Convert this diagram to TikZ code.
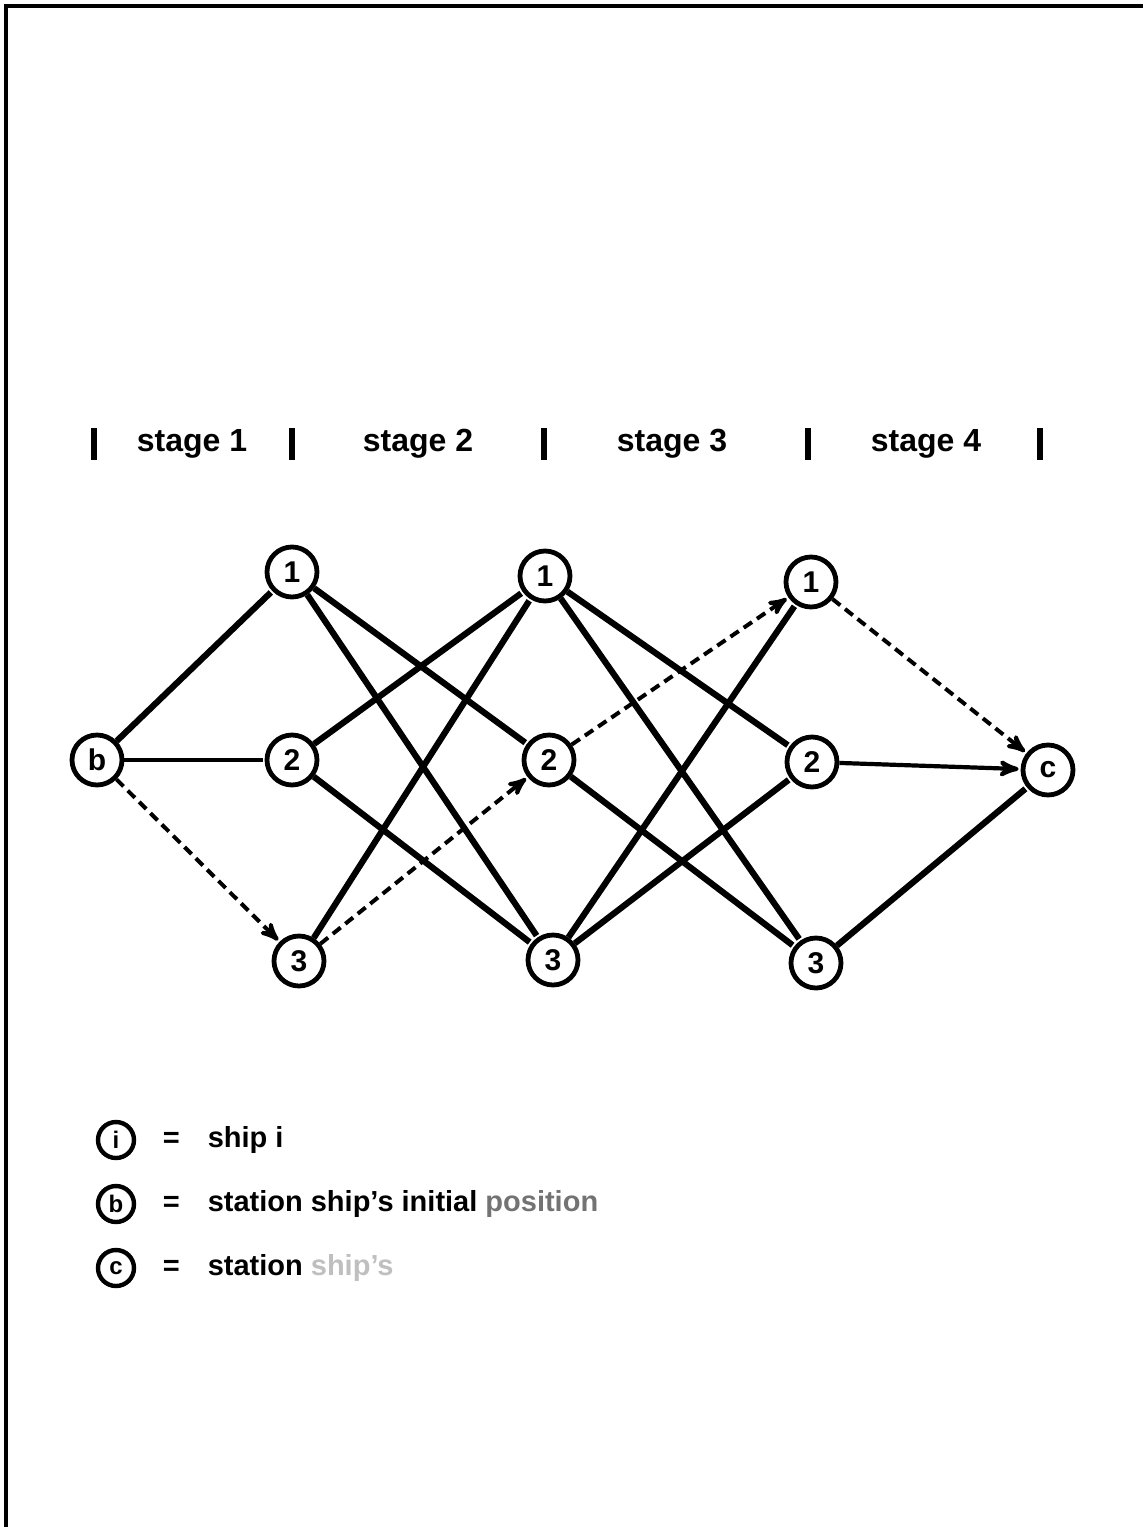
\documentclass[tikz,border=0pt]{standalone}
\usepackage{fontspec}
\setmainfont{Liberation Sans}
\usetikzlibrary{arrows,automata}

\begin{document}
\begin{tikzpicture}[x=0.5pt,y=-0.5pt,>=stealth',shorten >=1pt,line width=3.1pt]
        \tikzstyle{every state}=[fill=none,draw=black,text=black,line width=2.4pt,minimum size=25pt,inner sep=0pt,font=\bfseries\fontsize{15}{15}\selectfont]
        \tikzstyle{key}=[state,minimum size=18pt,line width=2.2pt,font=\bfseries\fontsize{12}{12}\selectfont]
        \tikzstyle{lightedge}=[line width=2.1pt]
        \tikzstyle{opt}=[->,dashed,line width=2pt,dash pattern=on 5pt off 3pt]
        \tikzstyle{label}=[font=\bfseries\fontsize{16}{16}\selectfont]
        \tikzstyle{keytext}=[anchor=west,font=\bfseries\fontsize{14.5}{14.5}\selectfont]
        \useasboundingbox (0,0) rectangle (1145,1527);
        \draw[line width=2pt] (6,1527) -- (6,6) -- (1145,6);

        % stage header
        \foreach \x in {94,292,544,808,1040}
            \draw[line width=2.7pt] (\x,428) -- (\x,462);
        \node[label] (s1) at (192,444) {stage 1};
        \node[label] (s2) at (418,444) {stage 2};
        \node[label] (s3) at (672,444) {stage 3};
        \node[label] (s4) at (926,444) {stage 4};

        \node[state] (b)  at (97,760)   {b};
        \node[state] (11) at (292,572)  {1};
        \node[state] (12) at (292,760)  {2};
        \node[state] (13) at (299,961)  {3};
        \node[state] (21) at (545,576)  {1};
        \node[state] (22) at (549,760)  {2};
        \node[state] (23) at (553,960)  {3};
        \node[state] (31) at (811,582)  {1};
        \node[state] (32) at (812,762)  {2};
        \node[state] (33) at (816,963)  {3};
        \node[state] (c)  at (1048,770) {c};

        \path (b) edge (11)
        edge[lightedge] (12)
        edge[opt] (13)
        (11) edge (22)
        edge (23)
        (12) edge (21)
        edge (23)
        (13) edge (21)
        edge[opt] (22)
        (21) edge (32)
        edge (33)
        (22) edge[opt] (31)
        edge (33)
        (23) edge (31)
        edge (32)
        (31) edge[opt] (c)
        (32) edge[lightedge,->] (c)
        (33) edge (c);

        % legend
        \node[key] (ki) at (116,1140) {i};
        \node[key] (kb) at (116,1204) {b};
        \node[key] (kc) at (116,1268) {c};
        \node[keytext] (ei) at (153,1140) {=};
        \node[keytext] (eb) at (153,1204) {=};
        \node[keytext] (ec) at (153,1268) {=};
        \node[keytext] (ti) at (198,1140) {ship i};
        \node[keytext] (tb) at (198,1204) {station ship's initial \textcolor{black!55}{position}};
        \node[keytext] (tc) at (198,1268) {station \textcolor{black!25}{ship's}};
    \end{tikzpicture}
\end{document}
